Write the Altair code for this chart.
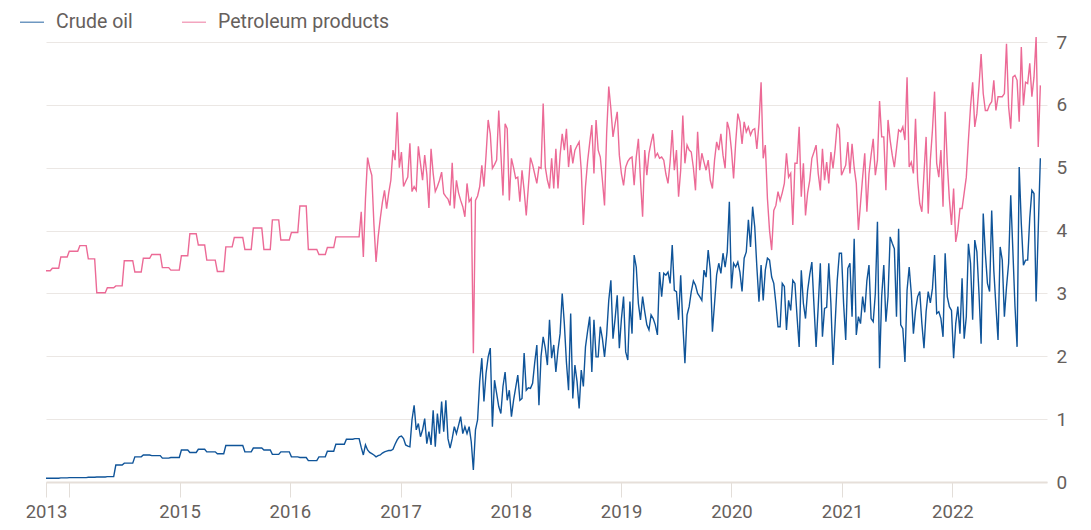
import altair as alt
import pandas as pd

# ---- Monthly-reported period (Oct 2013 - Aug 2016), million barrels/day ----
crude_monthly = [0.06, 0.06, 0.065, 0.07, 0.07, 0.075, 0.08, 0.085, 0.27, 0.30,
                 0.40, 0.43, 0.42, 0.38, 0.39, 0.51, 0.47, 0.52, 0.48, 0.45,
                 0.58, 0.58, 0.48, 0.54, 0.51, 0.44, 0.48, 0.40, 0.39, 0.34,
                 0.40, 0.49, 0.60, 0.68, 0.69]
products_monthly = [3.36, 3.40, 3.58, 3.67, 3.76, 3.55, 3.01, 3.09, 3.12, 3.52,
                    3.34, 3.56, 3.62, 3.41, 3.37, 3.60, 3.95, 3.77, 3.53, 3.35,
                    3.74, 3.89, 3.70, 4.04, 3.70, 4.17, 3.85, 3.97, 4.39, 3.70,
                    3.62, 3.73, 3.90, 3.90, 3.90]

# ---- Weekly period (mid Aug 2016 - Oct 2022) ----
crude_weekly = [
    0.69, 0.55, 0.43, 0.59, 0.51, 0.47, 0.45, 0.43, 0.40, 0.42,
    0.43, 0.46, 0.48, 0.49, 0.50, 0.50, 0.52, 0.60, 0.67, 0.72,
    0.73, 0.69, 0.59, 0.57, 0.56, 0.99, 1.22, 0.83, 0.93, 0.72,
    0.83, 1.01, 0.61, 0.80, 0.59, 1.14, 0.56, 1.09, 0.77, 1.28,
    0.80, 1.30, 0.69, 0.54, 0.69, 0.88, 0.77, 0.90, 1.04, 0.77,
    0.88, 0.77, 0.88, 0.64, 0.19, 0.83, 0.99, 1.60, 1.97, 1.28,
    1.73, 1.99, 2.13, 0.88, 1.62, 1.41, 1.20, 1.09, 1.52, 1.75,
    1.30, 1.46, 1.04, 1.30, 1.50, 1.70, 1.30, 1.33, 2.05, 1.46,
    1.50, 1.49, 1.57, 1.90, 2.18, 1.22, 2.00, 2.31, 2.13, 1.86,
    2.58, 1.97, 2.18, 1.75, 2.10, 2.36, 3.00, 2.52, 1.90, 1.46,
    2.68, 1.33, 1.86, 1.60, 1.17, 1.78, 1.52, 2.15, 2.40, 2.63,
    1.75, 2.58, 1.99, 1.99, 2.47, 2.28, 1.99, 2.34, 2.89, 3.21,
    2.28, 2.60, 2.97, 2.13, 2.60, 2.95, 2.07, 1.94, 2.87, 2.36,
    3.61, 3.42, 2.84, 2.58, 2.95, 2.71, 2.50, 2.42, 2.66, 2.60,
    2.50, 2.34, 3.34, 2.95, 3.32, 3.29, 3.34, 3.16, 3.77, 3.05,
    3.03, 2.58, 3.29, 2.52, 1.89, 2.66, 2.79, 3.03, 3.20, 3.13,
    3.00, 2.95, 2.89, 3.37, 3.26, 3.69, 3.37, 2.39, 2.84, 3.30,
    3.48, 3.32, 3.64, 3.42, 3.66, 4.46, 3.08, 3.48, 3.42, 3.50,
    3.34, 3.03, 3.56, 3.66, 4.17, 3.74, 4.38, 4.06, 3.42, 2.87,
    3.45, 2.89, 3.37, 3.56, 3.53, 3.26, 3.16, 2.84, 2.47, 2.47,
    3.16, 3.11, 2.42, 2.89, 2.73, 3.21, 3.16, 2.63, 2.15, 3.37,
    2.84, 2.60, 3.05, 3.30, 3.50, 2.81, 2.15, 2.79, 3.48, 2.31,
    2.76, 2.78, 3.48, 2.84, 1.86, 2.52, 3.21, 3.64, 3.64, 2.84,
    2.26, 3.40, 3.48, 2.63, 3.87, 2.34, 2.63, 2.52, 2.95, 2.70,
    3.20, 3.45, 2.60, 2.55, 3.00, 4.14, 1.81, 2.95, 3.45, 2.55,
    2.95, 3.90, 3.80, 3.71, 2.63, 4.03, 2.50, 2.44, 1.91, 3.05,
    3.42, 3.00, 2.36, 2.73, 2.95, 3.03, 2.52, 2.13, 2.71, 3.03,
    2.85, 3.08, 3.61, 2.68, 2.71, 2.60, 2.31, 3.64, 2.95, 2.79,
    2.73, 1.97, 2.52, 2.79, 2.36, 3.24, 2.28, 2.63, 3.79, 3.48,
    2.58, 3.85, 3.66, 3.00, 2.20, 4.27, 3.64, 3.16, 3.03, 4.32,
    3.37, 2.80, 2.26, 3.74, 3.53, 2.63, 3.10, 3.48, 4.56, 3.69,
    2.80, 2.15, 5.01, 4.11, 3.45, 3.53, 3.53, 4.20, 4.64, 4.59,
    2.87, 4.01, 5.15]
products_weekly = [
    3.90, 4.30, 3.58, 4.50, 5.16, 5.00, 4.88, 4.10, 3.50, 3.90,
    4.19, 4.45, 4.64, 4.35, 4.60, 4.80, 5.28, 5.12, 5.88, 5.00,
    5.25, 4.70, 4.78, 4.85, 5.39, 4.62, 4.70, 4.64, 5.34, 5.07,
    4.80, 5.20, 4.90, 4.36, 5.30, 4.91, 4.62, 4.70, 4.80, 4.93,
    4.59, 4.54, 4.50, 4.40, 5.08, 4.35, 4.80, 4.60, 4.48, 4.38,
    4.22, 4.75, 4.46, 4.51, 2.05, 4.48, 4.55, 4.70, 5.04, 4.70,
    5.20, 5.76, 5.54, 4.99, 5.05, 5.12, 5.91, 5.23, 4.56, 5.70,
    5.62, 4.48, 5.15, 5.00, 4.83, 4.85, 4.46, 4.96, 4.64, 4.24,
    4.70, 5.16, 5.05, 4.90, 4.75, 5.01, 4.99, 6.02, 5.01, 4.80,
    4.67, 5.15, 4.67, 5.30, 4.67, 5.20, 5.54, 5.28, 5.62, 5.01,
    5.36, 5.07, 5.28, 5.35, 5.41, 4.96, 4.09, 4.70, 5.10, 5.40,
    5.68, 4.91, 5.76, 5.28, 5.17, 4.80, 4.40, 5.54, 6.29, 5.94,
    5.49, 5.70, 5.89, 5.20, 4.90, 4.72, 5.01, 5.10, 5.15, 5.17,
    4.72, 5.17, 5.46, 4.80, 4.22, 5.28, 4.88, 5.23, 5.40, 5.54,
    5.17, 5.23, 5.15, 5.17, 5.12, 4.90, 4.75, 5.09, 5.60, 4.96,
    5.28, 4.54, 4.96, 5.83, 5.07, 5.36, 5.28, 5.25, 5.00, 4.64,
    5.57, 4.96, 5.23, 5.09, 4.96, 5.12, 4.80, 4.67, 5.12, 5.41,
    5.28, 5.54, 5.20, 4.99, 5.73, 5.60, 5.28, 4.83, 5.40, 5.86,
    5.73, 5.38, 5.73, 5.57, 5.65, 5.52, 5.60, 5.62, 5.30, 5.70,
    6.36, 5.15, 5.36, 4.51, 4.00, 3.69, 4.32, 4.40, 4.62, 4.48,
    4.60, 4.75, 5.23, 4.85, 4.91, 4.09, 5.07, 5.07, 5.65, 4.54,
    5.07, 4.24, 4.60, 4.80, 5.15, 5.25, 5.36, 4.91, 4.64, 5.30,
    4.80, 5.09, 4.75, 5.25, 4.99, 5.30, 5.70, 5.62, 4.88, 4.96,
    5.04, 5.41, 4.91, 5.38, 5.00, 4.75, 4.01, 4.43, 4.85, 5.23,
    4.30, 4.90, 5.20, 5.46, 4.88, 5.12, 6.06, 5.49, 5.49, 4.64,
    5.76, 5.44, 5.20, 5.01, 5.30, 5.60, 5.57, 5.65, 5.44, 6.44,
    5.01, 5.09, 4.91, 5.78, 4.80, 4.43, 4.30, 4.91, 5.49, 4.27,
    5.12, 5.60, 6.21, 5.07, 4.85, 5.28, 4.38, 5.89, 5.07, 4.50,
    4.09, 4.67, 3.82, 4.01, 4.35, 4.35, 4.60, 4.85, 5.44, 5.97,
    6.36, 5.65, 5.86, 6.30, 6.81, 6.18, 5.91, 5.91, 6.00, 6.05,
    6.39, 5.91, 6.13, 6.13, 6.13, 6.18, 6.97, 5.97, 5.62, 6.44,
    6.47, 6.39, 5.73, 6.92, 5.99, 6.36, 6.34, 6.66, 6.13, 6.44,
    7.08, 5.33, 6.31]

series_names = ["Crude oil", "Petroleum products"]
series_colors = ["#0f5499", "#ec6a96"]
y_ticks = [0, 1, 2, 3, 4, 5, 6, 7]
x_tick_years = [2014, 2015, 2016, 2017, 2018, 2019, 2020, 2021, 2022]

# ---- Build a weekly table; the monthly period repeats each month's value ----
n_monthly_weeks = 148
dates = pd.date_range("2013-10-16", periods=n_monthly_weeks + len(crude_weekly), freq="7D")
crude_vals, prod_vals = [], []
for i, d in enumerate(dates):
    if i < n_monthly_weeks:
        m = (d.year - 2013) * 12 + d.month - 10
        crude_vals.append(crude_monthly[m])
        prod_vals.append(products_monthly[m])
    else:
        crude_vals.append(crude_weekly[i - n_monthly_weeks])
        prod_vals.append(products_weekly[i - n_monthly_weeks])

df = pd.concat([
    pd.DataFrame({"date": dates, "value": crude_vals, "series": series_names[0]}),
    pd.DataFrame({"date": dates, "value": prod_vals, "series": series_names[1]}),
])

FONT = "Roboto"
GREY = "#66605c"

x_values = [alt.DateTime(year=2013, month=10, date=16)] + [
    alt.DateTime(year=y, month=1, date=1) for y in x_tick_years]

chart = alt.Chart(df).mark_line(strokeWidth=1.4).encode(
    x=alt.X("date:T",
            scale=alt.Scale(domain=[alt.DateTime(year=2013, month=10, date=16),
                                    alt.DateTime(year=2022, month=11, date=10)]),
            axis=alt.Axis(values=x_values,
                          labelExpr="year(datum.value) == 2014 ? '' : timeFormat(datum.value, '%Y')",
                          title=None, grid=False,
                          domainColor="#e6dfd9", domainWidth=2,
                          tickColor="#e3ded9", tickSize=15, tickWidth=1,
                          labelFontSize=18.5, labelColor=GREY, labelFont=FONT,
                          labelPadding=5, labelFlush=False, zindex=1)),
    y=alt.Y("value:Q",
            scale=alt.Scale(domain=[0, 7], nice=False),
            axis=alt.Axis(orient="right", values=y_ticks, title=None,
                          grid=True, gridColor="#ebe7e4", gridWidth=1,
                          domain=False, ticks=False,
                          labelFontSize=19, labelColor=GREY, labelFont=FONT,
                          labelPadding=9, labelBaseline="middle")),
    color=alt.Color("series:N",
                    scale=alt.Scale(domain=series_names, range=series_colors),
                    legend=alt.Legend(title=None, orient="none", direction="horizontal",
                                      legendX=-27, legendY=-33,
                                      symbolType="stroke", symbolSize=576,
                                      symbolStrokeWidth=1.5, symbolOpacity=0.6,
                                      labelFontSize=19.5, labelColor=GREY, labelFont=FONT,
                                      labelLimit=0, labelOffset=11, columnPadding=46,
                                      padding=0)),
).properties(
    width=1001,
    height=440,
    autosize=alt.AutoSizeParams(type="none"),
    padding={"left": 38, "top": 34, "right": 36, "bottom": 40},
).configure_view(strokeWidth=0)

chart.save("out.html", embed_options={"renderer": "svg", "actions": False})
